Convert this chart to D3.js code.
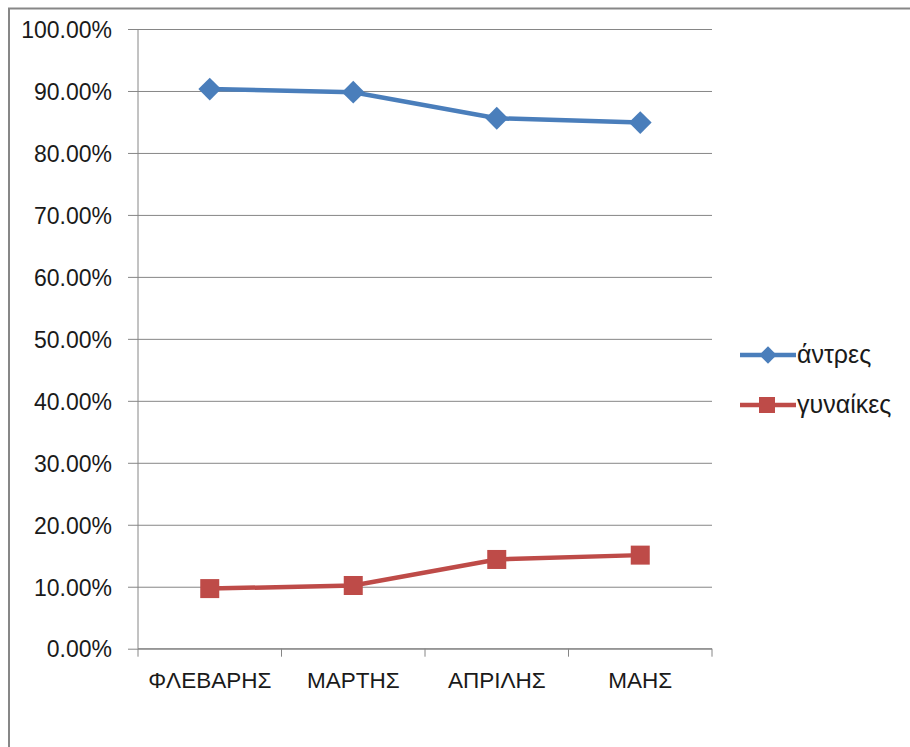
<!DOCTYPE html>
<html>
<head>
<meta charset="utf-8">
<script src="https://cdn.jsdelivr.net/npm/d3@7"></script>
<style>
  body { margin: 0; background: #fff; }
  svg { display: block; font-family: "Liberation Sans", Arial, sans-serif; }
  .axis path, .axis line { stroke: #868686; }
  .grid line { stroke: #868686; }
  .grid path { display: none; }
</style>
</head>
<body>
<div id="chart"></div>
<script>
var months = ["ΦΛΕΒΑΡΗΣ", "ΜΑΡΤΗΣ", "ΑΠΡΙΛΗΣ", "ΜΑΗΣ"];
var men = [0.903, 0.898, 0.856, 0.849];      // άντρες
var women = [0.097, 0.102, 0.144, 0.151];    // γυναίκες
var yTicks = [0, 0.1, 0.2, 0.3, 0.4, 0.5, 0.6, 0.7, 0.8, 0.9, 1.0];

var outerWidth = 910,
    outerHeight = 747,
    plotLeft = 138, plotRight = 712, plotTop = 29, plotBottom = 648.7;

var blue = "#4A7EBB", red = "#BE4B48";

var x = d3.scaleBand()
    .domain(months)
    .range([plotLeft, plotRight])
    .padding(0);

var y = d3.scaleLinear()
    .domain([0, 1])
    .range([plotBottom, plotTop]);

var svg = d3.select("#chart")
    .append("svg")
    .attr("width", outerWidth)
    .attr("height", outerHeight);

// outer chart frame
svg.append("rect")
    .attr("x", 9)
    .attr("y", 8.5)
    .attr("width", outerWidth + 20)
    .attr("height", outerHeight + 20)
    .attr("fill", "#fff")
    .attr("stroke", "#878787")
    .attr("stroke-width", 2);

// horizontal gridlines
svg.append("g")
    .attr("class", "grid")
    .attr("transform", "translate(" + plotLeft + ",0)")
    .call(d3.axisLeft(y).tickValues(yTicks).tickSize(-(plotRight - plotLeft)).tickFormat(""));

// y axis
var gY = svg.append("g")
    .attr("class", "axis")
    .attr("transform", "translate(" + plotLeft + ",0)")
    .call(d3.axisLeft(y)
        .tickValues(yTicks)
        .tickSize(10)
        .tickPadding(16)
        .tickFormat(function(d) { return (d * 100).toFixed(2) + "%"; }));
gY.select(".domain").attr("d", "M0," + plotBottom + "V" + plotTop);
gY.selectAll("text")
    .attr("font-size", 23)
    .attr("font-family", "Liberation Sans, Arial, sans-serif")
    .attr("fill", "#1a1a1a")
    .attr("dy", "0.36em");

// x axis
var gX = svg.append("g")
    .attr("class", "axis")
    .attr("transform", "translate(0," + plotBottom + ")")
    .call(d3.axisBottom(x).tickSize(0).tickPadding(23));
gX.select(".domain").attr("d", "M" + plotLeft + ",0H" + plotRight);
gX.selectAll("text")
    .attr("font-size", 22.5)
    .attr("font-family", "Liberation Sans, Arial, sans-serif")
    .attr("fill", "#1a1a1a");

// tick marks between categories
var bounds = months.map(function(m) { return x(m); }).concat([x.range()[1]]);
gX.selectAll(".sep")
    .data(bounds)
    .enter().append("line")
    .attr("class", "sep")
    .attr("x1", function(d) { return d; })
    .attr("x2", function(d) { return d; })
    .attr("y1", 0)
    .attr("y2", 8)
    .attr("stroke", "#868686");

var cx = function(d, i) { return x(months[i]) + x.bandwidth() / 2; };

var line = d3.line()
    .x(function(d, i) { return cx(d, i); })
    .y(function(d) { return y(d); });

svg.append("path")
    .datum(men)
    .attr("fill", "none")
    .attr("stroke", blue)
    .attr("stroke-width", 4.5)
    .attr("d", line);

svg.append("path")
    .datum(women)
    .attr("fill", "none")
    .attr("stroke", red)
    .attr("stroke-width", 4.5)
    .attr("d", line);

var diamond = d3.symbol().type(d3.symbolSquare).size(260);

svg.selectAll(".dmen")
    .data(men)
    .enter().append("path")
    .attr("class", "dmen")
    .attr("d", diamond)
    .attr("fill", blue)
    .attr("transform", function(d, i) { return "translate(" + cx(d, i) + "," + y(d) + ") rotate(45)"; });

svg.selectAll(".swomen")
    .data(women)
    .enter().append("rect")
    .attr("class", "swomen")
    .attr("x", function(d, i) { return cx(d, i) - 9.5; })
    .attr("y", function(d) { return y(d) - 9.5; })
    .attr("width", 19)
    .attr("height", 19)
    .attr("fill", red);

// legend
var legend = [
    { name: "άντρες", color: blue, marker: "diamond", y: 355 },
    { name: "γυναίκες", color: red, marker: "square", y: 405 }
];

var lg = svg.selectAll(".legend")
    .data(legend)
    .enter().append("g")
    .attr("class", "legend")
    .attr("transform", function(d) { return "translate(740," + d.y + ")"; });

lg.append("line")
    .attr("x1", 0)
    .attr("x2", 56)
    .attr("stroke", function(d) { return d.color; })
    .attr("stroke-width", 4.5);

lg.append("path")
    .attr("d", function(d) {
        return d.marker == "diamond"
            ? d3.symbol().type(d3.symbolSquare).size(150)()
            : d3.symbol().type(d3.symbolSquare).size(256)();
    })
    .attr("fill", function(d) { return d.color; })
    .attr("transform", function(d) {
        return d.marker == "diamond" ? "translate(28,0) rotate(45)" : "translate(27,0)";
    });

lg.append("text")
    .attr("x", 57)
    .attr("dy", "0.33em")
    .attr("font-size", 25)
    .attr("fill", "#1a1a1a")
    .text(function(d) { return d.name; });
</script>
</body>
</html>
